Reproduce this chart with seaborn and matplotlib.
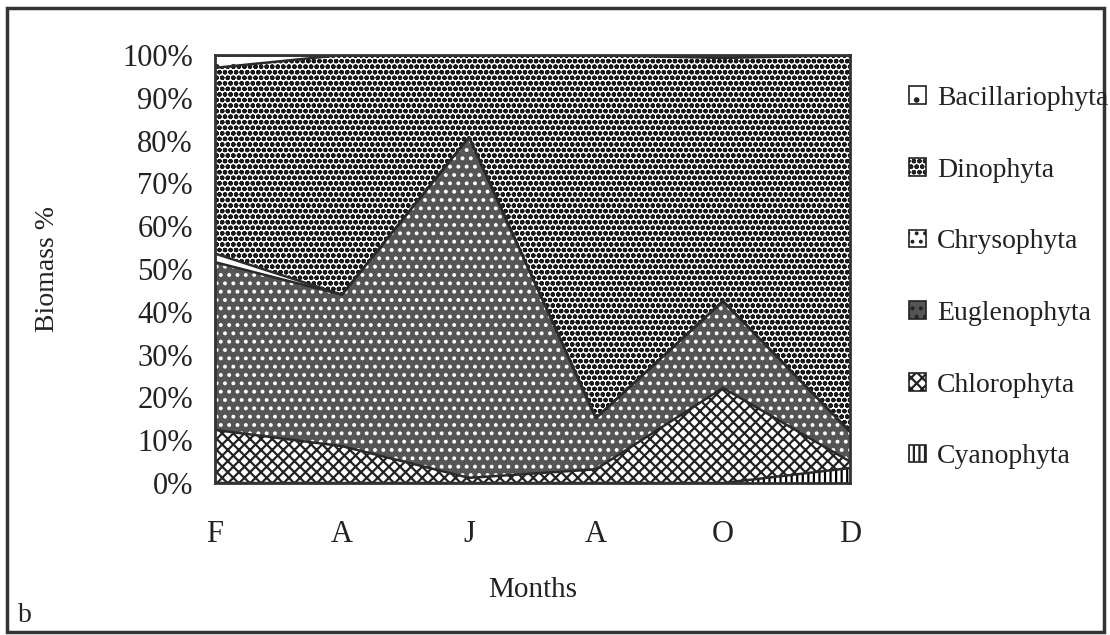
import matplotlib
matplotlib.use("Agg")
import matplotlib.pyplot as plt
import matplotlib.patches as mpatches
import numpy as np
import seaborn as sns

months = ["F", "A", "J", "A", "O", "D"]
cyanophyta = [0.0, 0.0, 0.0, 0.0, 0.0, 3.5]
chlorophyta = [12.4, 8.6, 1.2, 3.2, 22.2, 1.5]
euglenophyta = [39.2, 35.4, 79.6, 12.0, 20.3, 7.0]
chrysophyta = [2.0, 0.0, 0.0, 0.0, 0.0, 0.0]
dinophyta = [43.4, 56.0, 19.2, 84.8, 56.8, 88.0]
bacillariophyta = [3.0, 0.0, 0.0, 0.0, 0.7, 0.0]

series_names = ["Cyanophyta", "Chlorophyta", "Euglenophyta", "Chrysophyta",
                "Dinophyta", "Bacillariophyta"]
series = [cyanophyta, chlorophyta, euglenophyta, chrysophyta, dinophyta, bacillariophyta]

sns.set_theme(style="white")
plt.rcParams["font.family"] = ["Liberation Serif", "DejaVu Serif"]
plt.rcParams["hatch.linewidth"] = 1.6

styles = {
    "Cyanophyta": dict(facecolor="white", hatch="|||", hatchcolor="black"),
    "Chlorophyta": dict(facecolor="white", hatch="xxx", hatchcolor="#222222"),
    "Euglenophyta": dict(facecolor="#555555", hatch="..", hatchcolor="white"),
    "Chrysophyta": dict(facecolor="white", hatch="", hatchcolor="black"),
    "Dinophyta": dict(facecolor="white", hatch="ooo", hatchcolor="#1a1a1a"),
    "Bacillariophyta": dict(facecolor="white", hatch=".", hatchcolor="#333333"),
}

fig = plt.figure(figsize=(11.1, 6.35), dpi=100)
ax = fig.add_axes([215/1110, 1-483/635, (850-215)/1110, (483-55)/635])

x = np.arange(len(months))
base = np.zeros(len(months))
for name, vals in zip(series_names, series):
    top = base + np.array(vals)
    st = styles[name]
    ax.fill_between(x, base, top, facecolor=st["facecolor"], hatch=st["hatch"],
                    edgecolor=st["hatchcolor"], linewidth=0)
    base = top

# boundary lines
base = np.zeros(len(months))
for name, vals in zip(series_names, series):
    base = base + np.array(vals)
    sns.lineplot(x=x, y=base, ax=ax, color="#2a2a2a", linewidth=1.8, legend=False)

ax.set_xlim(0, len(months) - 1)
ax.set_ylim(0, 100)
ax.set_xticks(x)
ax.set_xticklabels(months)
ax.set_yticks(np.arange(0, 101, 10))
ax.set_yticklabels([f"{v}%" for v in range(0, 101, 10)])
ax.tick_params(axis="both", length=0, labelsize=22, colors="#222222")
ax.tick_params(axis="x", pad=27)
ax.tick_params(axis="y", pad=16)
for s in ax.spines.values():
    s.set_color("#333333")
    s.set_linewidth(2)
ax.set_xlabel("Months", fontsize=21, color="#222222", labelpad=20)
ax.set_ylabel("Biomass %", fontsize=20, color="#222222", labelpad=45)
ax.grid(False)

handles = []
for name in series_names[::-1]:
    st = styles[name]
    handles.append(mpatches.Patch(facecolor=st["facecolor"], hatch=st["hatch"] if st["hatch"] else "..",
                                  edgecolor="#222222", linewidth=1.2, label=name))
leg = fig.legend(handles=handles, loc="upper left", bbox_to_anchor=(909/1110, 1-86/635),
                 frameon=False, fontsize=20, handlelength=0.6, handleheight=0.6,
                 handletextpad=0.4, labelspacing=1.68, borderpad=0, borderaxespad=0)
for t in leg.get_texts():
    t.set_color("#222222")

fig.text(18/1110, 1-615/635, "b", fontsize=20, color="#222222", va="center", ha="left")
fig.patches.append(mpatches.Rectangle((7/1110, 3/635), (1104-7)/1110, (627-3)/635,
                                      transform=fig.transFigure, fill=False,
                                      edgecolor="#333333", linewidth=2.5))

fig.savefig("out.png", dpi=100)
